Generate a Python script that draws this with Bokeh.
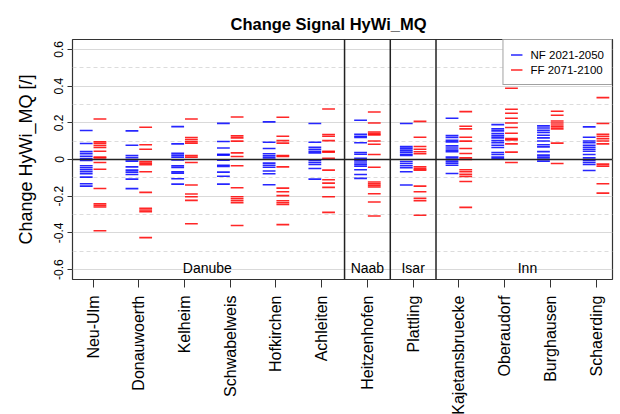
import math
from bokeh.plotting import figure
from bokeh.models import Range1d, FixedTicker, Span, Title, Legend, LegendItem, ColumnDataSource
from bokeh.core.properties import value
from bokeh.embed import file_html
from bokeh.resources import INLINE

stations = ["Neu-Ulm", "Donauwoerth", "Kelheim", "Schwabelweis", "Hofkirchen", "Achleiten",
            "Heitzenhofen", "Plattling", "Kajetansbruecke", "Oberaudorf", "Burghausen", "Schaerding"]
groups = ["Danube", "Naab", "Isar", "Inn"]
group_centers = [3.5, 7, 8, 10.5]
group_separators = [6.5, 7.5, 8.5]
y_ticks = [-0.6, -0.4, -0.2, 0, 0.2, 0.4, 0.6]
y_tick_labels = ["-0.6", "-0.4", "-0.2", "0", "0.2", "0.4", "0.6"]
y_minor = [-0.5, -0.3, -0.1, 0.1, 0.3, 0.5]

# NF 2021-2050 (blue) per station
nf_neu_ulm = [0.158, 0.087, 0.043, 0.031, 0.018, 0.005, -0.005, -0.034, -0.045, -0.056, -0.067, -0.078, -0.096, -0.132, -0.145]
nf_donauwoerth = [0.156, 0.078, 0.022, 0.011, 0.0, -0.009, -0.040, -0.058, -0.069, -0.082, -0.107, -0.159]
nf_kelheim = [0.179, 0.085, 0.034, 0.024, 0.013, -0.002, -0.034, -0.043, -0.067, -0.074, -0.105, -0.134]
nf_schwabelweis = [0.197, 0.098, 0.063, 0.029, 0.024, -0.004, -0.031, -0.038, -0.069, -0.091, -0.134]
nf_hofkirchen = [0.205, 0.094, 0.060, 0.031, 0.020, 0.009, -0.020, -0.031, -0.042, -0.063, -0.078, -0.138]
nf_achleiten = [0.196, 0.094, 0.067, 0.056, 0.045, 0.036, -0.005, -0.016, -0.027, -0.049, -0.107]
nf_heitzenhofen = [0.214, 0.138, 0.127, 0.120, 0.091, 0.038, 0.029, 0.007, -0.004, -0.014, -0.025, -0.036, -0.056, -0.082, -0.103]
nf_plattling = [0.196, 0.071, 0.062, 0.051, 0.040, 0.029, 0.022, -0.011, -0.022, -0.034, -0.045, -0.067, -0.139]
nf_kajetansbruecke = [0.225, 0.130, 0.120, 0.105, 0.096, 0.074, 0.063, 0.051, 0.042, 0.013, 0.002, -0.009, -0.020, -0.031, -0.076]
nf_oberaudorf = [0.190, 0.167, 0.156, 0.141, 0.129, 0.118, 0.103, 0.091, 0.078, 0.065, 0.038, 0.027, 0.013, 0.004]
nf_burghausen = [0.183, 0.172, 0.159, 0.147, 0.132, 0.118, 0.101, 0.080, 0.069, 0.043, 0.024, 0.013, 0.002, -0.009]
nf_schaerding = [0.178, 0.121, 0.101, 0.091, 0.078, 0.067, 0.056, 0.045, 0.027, 0.009, -0.005, -0.016, -0.027, -0.060]

# FF 2071-2100 (red) per station
ff_neu_ulm = [0.221, 0.096, 0.087, 0.076, 0.065, 0.045, 0.014, 0.009, -0.016, -0.053, -0.158, -0.241, -0.250, -0.259, -0.388]
ff_donauwoerth = [0.176, 0.080, 0.056, -0.011, -0.020, -0.029, -0.067, -0.179, -0.266, -0.275, -0.284, -0.426]
ff_kelheim = [0.221, 0.120, 0.109, 0.098, 0.089, 0.022, 0.013, -0.016, -0.139, -0.188, -0.203, -0.223, -0.350]
ff_schwabelweis = [0.232, 0.129, 0.118, 0.100, 0.036, 0.016, -0.034, -0.154, -0.203, -0.214, -0.225, -0.236, -0.360]
ff_hofkirchen = [0.230, 0.127, 0.103, 0.089, 0.022, 0.016, -0.040, -0.156, -0.176, -0.197, -0.225, -0.236, -0.245, -0.355]
ff_achleiten = [0.275, 0.136, 0.127, 0.103, 0.045, 0.040, 0.007, -0.058, -0.110, -0.129, -0.152, -0.203, -0.288]
ff_heitzenhofen = [0.259, 0.199, 0.150, 0.141, 0.134, 0.101, 0.083, 0.027, -0.042, -0.123, -0.132, -0.141, -0.150, -0.187, -0.232, -0.308]
ff_plattling = [0.208, 0.121, 0.071, 0.056, 0.042, 0.031, -0.040, -0.051, -0.058, -0.145, -0.176, -0.212, -0.225, -0.304]
ff_kajetansbruecke = [0.261, 0.181, 0.167, 0.121, 0.100, 0.060, 0.033, 0.009, 0.0, -0.056, -0.067, -0.080, -0.092, -0.120, -0.261]
ff_oberaudorf = [0.388, 0.274, 0.252, 0.225, 0.199, 0.174, 0.143, 0.114, 0.107, 0.085, 0.040, -0.016]
ff_burghausen = [0.263, 0.241, 0.210, 0.199, 0.188, 0.178, 0.167, 0.089, -0.022]
ff_schaerding = [0.337, 0.196, 0.138, 0.127, 0.114, 0.101, 0.085, -0.025, -0.036, -0.132, -0.183]

nf_all = [nf_neu_ulm, nf_donauwoerth, nf_kelheim, nf_schwabelweis, nf_hofkirchen, nf_achleiten,
          nf_heitzenhofen, nf_plattling, nf_kajetansbruecke, nf_oberaudorf, nf_burghausen, nf_schaerding]
ff_all = [ff_neu_ulm, ff_donauwoerth, ff_kelheim, ff_schwabelweis, ff_hofkirchen, ff_achleiten,
          ff_heitzenhofen, ff_plattling, ff_kajetansbruecke, ff_oberaudorf, ff_burghausen, ff_schaerding]

FONT = "Liberation Sans"

p = figure(width=620, height=414, output_backend="svg", toolbar_location=None,
           x_range=Range1d(0.55, 12.36), y_range=Range1d(-0.654, 0.654),
           min_border_left=72, min_border_top=39, min_border_right=8, min_border_bottom=10)
p.frame_width = 540
p.frame_height = 240

p.title = Title(text="Change Signal HyWi_MQ", align="left", text_font=FONT,
                text_font_size="16.5px", text_font_style="bold", offset=158, standoff=14,
                text_color="black")

# grids
p.xgrid.visible = False
p.ygrid.ticker = FixedTicker(ticks=y_ticks, minor_ticks=y_minor)
p.ygrid.grid_line_color = "#d9d9d9"
p.ygrid.grid_line_width = 1
p.ygrid.minor_grid_line_color = "#dcdcdc"
p.ygrid.minor_grid_line_dash = "4 3"

p.outline_line_color = "#333333"
p.outline_line_width = 1.2

# axes
p.yaxis.ticker = FixedTicker(ticks=y_ticks)
p.yaxis.major_label_overrides = {t: l for t, l in zip(y_ticks, y_tick_labels)}
p.yaxis.major_label_orientation = "vertical"
p.yaxis.major_label_text_font = FONT
p.yaxis.major_label_text_font_size = "12px"
p.yaxis.major_label_text_color = "black"
p.yaxis.minor_tick_line_color = None
p.yaxis.major_tick_out = 5
p.yaxis.major_tick_in = 0
p.yaxis.axis_line_color = None
p.yaxis.major_tick_line_color = "#333333"
p.yaxis.major_label_standoff = 4
p.yaxis.axis_label = "Change HyWi_MQ [/]"
p.yaxis.axis_label_text_font = FONT
p.yaxis.axis_label_text_font_size = "18px"
p.yaxis.axis_label_text_font_style = "normal"
p.yaxis.axis_label_text_color = "black"
p.yaxis.axis_label_standoff = 16

xt = list(range(1, len(stations) + 1))
p.xaxis.ticker = FixedTicker(ticks=xt)
p.xaxis.major_label_overrides = {i: s for i, s in zip(xt, stations)}
p.xaxis.major_label_orientation = math.pi / 2
p.xaxis.major_label_text_font = FONT
p.xaxis.major_label_text_font_size = "16px"
p.xaxis.major_label_text_color = "black"
p.xaxis.minor_tick_line_color = None
p.xaxis.major_tick_out = 8
p.xaxis.major_tick_in = 0
p.xaxis.axis_line_color = None
p.xaxis.major_tick_line_color = "#333333"
p.xaxis.major_label_standoff = 8

# separators and zero line
for s in group_separators:
    p.add_layout(Span(location=s, dimension="height", line_color="#222222", line_width=1.5))
p.add_layout(Span(location=0, dimension="width", line_color="#222222", line_width=1.5))

# dashes
bx0, bx1, by = [], [], []
for i, vals in enumerate(nf_all):
    for v in vals:
        bx0.append(i + 1 - 0.29); bx1.append(i + 1 - 0.01); by.append(v)
rx0, rx1, ry = [], [], []
for i, vals in enumerate(ff_all):
    for v in vals:
        rx0.append(i + 1 + 0.01); rx1.append(i + 1 + 0.29); ry.append(v)

blue = p.segment(x0="x0", y0="y", x1="x1", y1="y",
                 source=ColumnDataSource(dict(x0=bx0, x1=bx1, y=by)),
                 line_color="#0000ff", line_width=1.6, line_alpha=0.85)
red = p.segment(x0="x0", y0="y", x1="x1", y1="y",
                source=ColumnDataSource(dict(x0=rx0, x1=rx1, y=ry)),
                line_color="#ff0000", line_width=1.6, line_alpha=0.85)

# group labels
p.text(x=group_centers, y=[-0.59] * len(groups), text=groups, text_font=value(FONT),
       text_font_size="14px", text_align="center", text_baseline="middle", text_color="black")

legend = Legend(items=[LegendItem(label="NF 2021-2050", renderers=[blue]),
                       LegendItem(label="FF 2071-2100", renderers=[red])],
                location="top_right", margin=0, padding=7, spacing=0,
                glyph_width=12, glyph_height=15, label_standoff=8,
                label_text_font=FONT, label_text_font_size="11.5px",
                label_text_color="black",
                border_line_color="#444444", border_line_width=1,
                background_fill_alpha=1)
p.add_layout(legend, "center")

open("out.html", "w").write(file_html(p, INLINE))
